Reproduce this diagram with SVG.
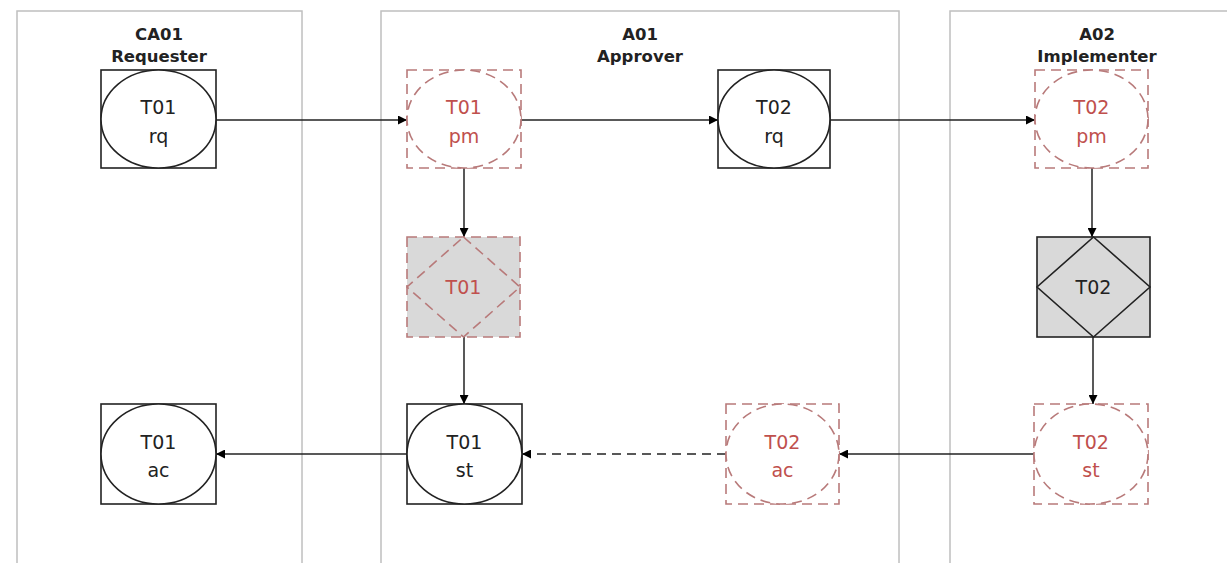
<svg xmlns="http://www.w3.org/2000/svg" width="1227" height="563" viewBox="0 0 1227 563">
<defs>
<marker id="arr" viewBox="0 0 10 10" refX="10" refY="5" markerWidth="11" markerHeight="9" markerUnits="userSpaceOnUse" orient="auto">
<path d="M0,0 L10,5 L0,10 Z" fill="#000"/>
</marker>
<style>
.lane{fill:#fff;stroke:#bfbfbf;stroke-width:1.5}
.title{font-family:"DejaVu Sans",sans-serif;font-weight:bold;font-size:16.5px;fill:#222;text-anchor:middle}
.t{font-family:"DejaVu Sans",sans-serif;font-size:19px;text-anchor:middle;fill:#222}
.tr{fill:#c0504d}
.sol{fill:#fff;stroke:#222;stroke-width:1.6}
.dash{fill:#fff;stroke:#b87a7a;stroke-width:1.6;stroke-dasharray:10 6}
.gray{fill:#d9d9d9}
.con{fill:none;stroke:#222;stroke-width:1.5;marker-end:url(#arr)}
.cond{fill:none;stroke:#222;stroke-width:1.5;stroke-dasharray:9 6;marker-end:url(#arr)}
</style>
</defs>
<rect width="1227" height="563" fill="#fff"/>
<g id="lanes">
<g id="lane-CA01"><rect class="lane" x="17" y="11" width="285" height="570"/>
<text class="title" x="159" y="40">CA01</text><text class="title" x="159" y="62">Requester</text></g>
<g id="lane-A01"><rect class="lane" x="381" y="11" width="518" height="570"/>
<text class="title" x="640" y="40">A01</text><text class="title" x="640" y="62">Approver</text></g>
<g id="lane-A02"><rect class="lane" x="950" y="11" width="300" height="570"/>
<text class="title" x="1097" y="40">A02</text><text class="title" x="1097" y="62">Implementer</text></g>
</g>
<g id="connectors">
<path class="con" d="M216,120 H407"/>
<path class="con" d="M521,120 H718"/>
<path class="con" d="M830,120 H1035"/>
<path class="con" d="M464,168 V237"/>
<path class="con" d="M464,337 V404"/>
<path class="con" d="M1092,168 V237"/>
<path class="con" d="M1093,337 V404"/>
<path class="con" d="M1034,454 H839"/>
<path class="cond" d="M726,454 H522"/>
<path class="con" d="M407,454 H216"/>
</g>
<g id="T01rq"><rect class="sol" x="101" y="70" width="115" height="98"/><ellipse class="sol" cx="158.5" cy="119" rx="57.5" ry="49"/>
<text class="t" x="158.5" y="114">T01</text><text class="t" x="158.5" y="143">rq</text></g>
<g id="T01pm"><rect class="dash" x="407" y="70" width="114" height="98"/><ellipse class="dash" cx="464" cy="119" rx="57" ry="49"/>
<text class="t tr" x="464" y="114">T01</text><text class="t tr" x="464" y="143">pm</text></g>
<g id="T02rq"><rect class="sol" x="718" y="70" width="112" height="98"/><ellipse class="sol" cx="774" cy="119" rx="56" ry="49"/>
<text class="t" x="774" y="114">T02</text><text class="t" x="774" y="143">rq</text></g>
<g id="T02pm"><rect class="dash" x="1035" y="70" width="113" height="98"/><ellipse class="dash" cx="1091.5" cy="119" rx="56.5" ry="49"/>
<text class="t tr" x="1091.5" y="114">T02</text><text class="t tr" x="1091.5" y="143">pm</text></g>
<g id="T01ex"><rect class="dash gray" x="407" y="237" width="113" height="100"/><polygon class="dash gray" points="463.5,237 520,287 463.5,337 407,287"/>
<text class="t tr" x="463.5" y="294">T01</text></g>
<g id="T02ex"><rect class="sol gray" x="1037" y="237" width="113" height="100"/><polygon class="sol gray" points="1093.5,237 1150,287 1093.5,337 1037,287"/>
<text class="t" x="1093.5" y="294">T02</text></g>
<g id="T01ac"><rect class="sol" x="101" y="404" width="115" height="100"/><ellipse class="sol" cx="158.5" cy="454" rx="57.5" ry="50"/>
<text class="t" x="158.5" y="449">T01</text><text class="t" x="158.5" y="477">ac</text></g>
<g id="T01st"><rect class="sol" x="407" y="404" width="115" height="100"/><ellipse class="sol" cx="464.5" cy="454" rx="57.5" ry="50"/>
<text class="t" x="464.5" y="449">T01</text><text class="t" x="464.5" y="477">st</text></g>
<g id="T02ac"><rect class="dash" x="726" y="404" width="113" height="100"/><ellipse class="dash" cx="782.5" cy="454" rx="56.5" ry="50"/>
<text class="t tr" x="782.5" y="449">T02</text><text class="t tr" x="782.5" y="477">ac</text></g>
<g id="T02st"><rect class="dash" x="1034" y="404" width="114" height="100"/><ellipse class="dash" cx="1091" cy="454" rx="57" ry="50"/>
<text class="t tr" x="1091" y="449">T02</text><text class="t tr" x="1091" y="477">st</text></g>
</svg>
